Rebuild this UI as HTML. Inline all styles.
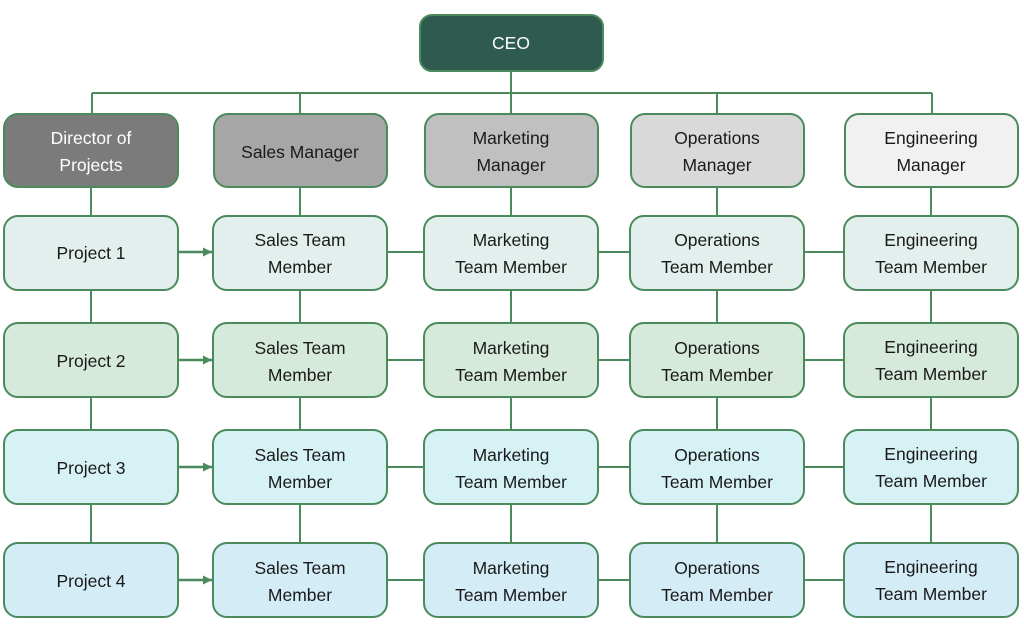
<!DOCTYPE html>
<html><head><meta charset="utf-8"><style>
html,body{margin:0;padding:0;background:#fff;}
svg{display:block;}
text{font-family:"Liberation Sans",sans-serif;font-size:17.5px;text-anchor:middle;fill:#1a1a1a;}
</style></head><body>
<svg width="1024" height="624" viewBox="0 0 1024 624" xmlns="http://www.w3.org/2000/svg">
<defs><marker id="a" markerWidth="9" markerHeight="9" refX="9" refY="4.5" orient="auto" markerUnits="userSpaceOnUse"><path d="M0,0 L9,4.5 L0,9 Z" fill="#4a8a5c"/></marker></defs>
<g stroke="#4a8a5c" stroke-width="2" fill="none">
<path d="M511 71 V93 M92 93 H932 M92 93 V113 M300 93 V113 M511 93 V113 M717 93 V113 M932 93 V113"/>
<path d="M91 187 V543 M300 187 V543 M511 187 V543 M717 187 V543 M931 187 V543"/>
<path d="M387 252 H424 M598 252 H630 M804 252 H844"/>
<path d="M387 360 H424 M598 360 H630 M804 360 H844"/>
<path d="M387 467 H424 M598 467 H630 M804 467 H844"/>
<path d="M387 580 H424 M598 580 H630 M804 580 H844"/>
</g>
<g stroke="#4a8a5c" stroke-width="2">
<rect x="420" y="15" width="183" height="56" rx="12" fill="#2e5a50"/>
<rect x="4" y="114" width="174" height="73" rx="14" fill="#7b7b7b"/>
<rect x="214" y="114" width="173" height="73" rx="14" fill="#a6a6a6"/>
<rect x="425" y="114" width="173" height="73" rx="14" fill="#c0c0c0"/>
<rect x="631" y="114" width="173" height="73" rx="14" fill="#d9d9d9"/>
<rect x="845" y="114" width="173" height="73" rx="14" fill="#f1f1f1"/>
</g>
<g stroke="#4a8a5c" stroke-width="2" fill="#e2efec">
<rect x="4" y="216" width="174" height="74" rx="14"/><rect x="213" y="216" width="174" height="74" rx="14"/><rect x="424" y="216" width="174" height="74" rx="14"/><rect x="630" y="216" width="174" height="74" rx="14"/><rect x="844" y="216" width="174" height="74" rx="14"/>
</g>
<g stroke="#4a8a5c" stroke-width="2" fill="#d6eadb">
<rect x="4" y="323" width="174" height="74" rx="14"/><rect x="213" y="323" width="174" height="74" rx="14"/><rect x="424" y="323" width="174" height="74" rx="14"/><rect x="630" y="323" width="174" height="74" rx="14"/><rect x="844" y="323" width="174" height="74" rx="14"/>
</g>
<g stroke="#4a8a5c" stroke-width="2" fill="#d6f2f5">
<rect x="4" y="430" width="174" height="74" rx="14"/><rect x="213" y="430" width="174" height="74" rx="14"/><rect x="424" y="430" width="174" height="74" rx="14"/><rect x="630" y="430" width="174" height="74" rx="14"/><rect x="844" y="430" width="174" height="74" rx="14"/>
</g>
<g stroke="#4a8a5c" stroke-width="2" fill="#d4ecf6">
<rect x="4" y="543" width="174" height="74" rx="14"/><rect x="213" y="543" width="174" height="74" rx="14"/><rect x="424" y="543" width="174" height="74" rx="14"/><rect x="630" y="543" width="174" height="74" rx="14"/><rect x="844" y="543" width="174" height="74" rx="14"/>
</g>
<g stroke="#4a8a5c" stroke-width="2.5" fill="none">
<path d="M179 252 H212" marker-end="url(#a)"/>
<path d="M179 360 H212" marker-end="url(#a)"/>
<path d="M179 467 H212" marker-end="url(#a)"/>
<path d="M179 580 H212" marker-end="url(#a)"/>
</g>
<text x="511" y="49" style="fill:#fff">CEO</text>
<text x="91" y="144" style="fill:#fff">Director of</text><text x="91" y="171" style="fill:#fff">Projects</text>
<text x="300" y="158">Sales Manager</text>
<text x="511" y="144">Marketing</text><text x="511" y="171">Manager</text>
<text x="717" y="144">Operations</text><text x="717" y="171">Manager</text>
<text x="931" y="144">Engineering</text><text x="931" y="171">Manager</text>

<text x="91" y="259">Project 1</text>
<text x="300" y="246">Sales Team</text><text x="300" y="273">Member</text>
<text x="511" y="246">Marketing</text><text x="511" y="273">Team Member</text>
<text x="717" y="246">Operations</text><text x="717" y="273">Team Member</text>
<text x="931" y="246">Engineering</text><text x="931" y="273">Team Member</text>

<text x="91" y="367">Project 2</text>
<text x="300" y="354">Sales Team</text><text x="300" y="381">Member</text>
<text x="511" y="354">Marketing</text><text x="511" y="381">Team Member</text>
<text x="717" y="354">Operations</text><text x="717" y="381">Team Member</text>
<text x="931" y="353">Engineering</text><text x="931" y="380">Team Member</text>

<text x="91" y="474">Project 3</text>
<text x="300" y="461">Sales Team</text><text x="300" y="488">Member</text>
<text x="511" y="461">Marketing</text><text x="511" y="488">Team Member</text>
<text x="717" y="461">Operations</text><text x="717" y="488">Team Member</text>
<text x="931" y="460">Engineering</text><text x="931" y="487">Team Member</text>

<text x="91" y="587">Project 4</text>
<text x="300" y="574">Sales Team</text><text x="300" y="601">Member</text>
<text x="511" y="574">Marketing</text><text x="511" y="601">Team Member</text>
<text x="717" y="574">Operations</text><text x="717" y="601">Team Member</text>
<text x="931" y="573">Engineering</text><text x="931" y="600">Team Member</text>
</svg>
</body></html>
